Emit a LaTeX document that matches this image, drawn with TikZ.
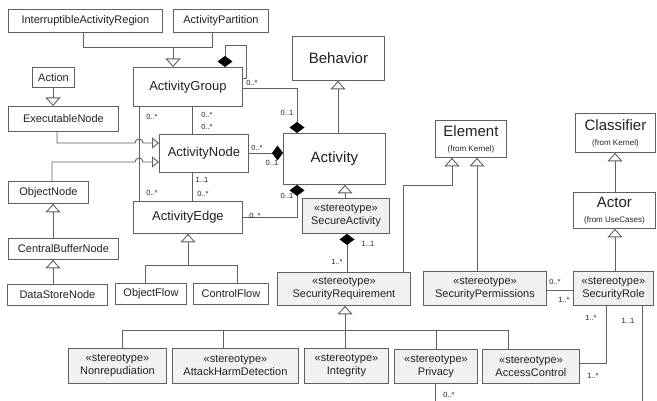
\documentclass[tikz,border=0pt]{standalone}
\usepackage{fontspec}
\setmainfont{Liberation Sans}
\usetikzlibrary{arrows.meta}
\definecolor{ln}{HTML}{606060}
\definecolor{tx}{HTML}{222222}
\definecolor{st}{HTML}{F1F1F1}
\newcommand{\umlbox}[7]{\node[#1, anchor=north west, minimum width={#4-#2}, minimum height={#5-#3}] (#6) at (#2,#3) {#7};}
\begin{document}
\begin{tikzpicture}[x=1pt,y=-1pt,
  box/.style={draw=ln, line width=0.9pt, fill=white, text=tx, inner sep=0pt, align=center},
  ster/.style={box, fill=st, font=\fontsize{11}{13}\selectfont},
  fbig/.style={font=\fontsize{15}{17}\selectfont},
  fmid/.style={font=\fontsize{13}{15}\selectfont},
  fsm/.style={font=\fontsize{11}{13}\selectfont},
  conn/.style={draw=ln, line width=0.9pt},
  gen/.style={conn, -{Triangle[open, length=8.5pt, width=15pt]}},
  gensmall/.style={conn, -{Triangle[open, length=7pt, width=11pt]}},
  comp/.style={conn, {Diamond[length=11pt, width=15pt, color=black, fill=black]}-},
  mult/.style={font=\fontsize{7.5}{8}\selectfont, text=tx, inner sep=0pt}
]
\fill[white] (0,0) rectangle (657,401);
\useasboundingbox (0,0) rectangle (657,401);

% ---- boxes ----
\umlbox{box,fsm}{8}{9}{162}{32}{iar}{InterruptibleActivityRegion}
\umlbox{box,fsm}{173}{9}{268}{32}{ap}{ActivityPartition}
\umlbox{box,fmid}{133}{67}{242}{106}{ag}{ActivityGroup}
\umlbox{box,fbig}{292}{36}{384}{80}{beh}{Behavior}
\umlbox{box,fsm}{32}{67}{74}{87}{act}{Action}
\umlbox{box,fsm}{8}{106}{118}{131}{en}{ExecutableNode}
\umlbox{box,fmid}{159}{134}{248}{172}{an}{ActivityNode}
\umlbox{box,fbig}{283}{133}{385}{184}{activity}{Activity}
\umlbox{box,fsm}{8}{181}{88}{203}{on}{ObjectNode}
\umlbox{box,fmid}{133}{201}{242}{233}{ae}{ActivityEdge}
\umlbox{ster}{302}{198}{389}{233}{sa}{«stereotype»\\SecureActivity}
\umlbox{box,fsm}{8}{238}{118}{259}{cbn}{CentralBufferNode}
\umlbox{box,fsm}{7}{284}{107}{305}{dsn}{DataStoreNode}
\umlbox{box,fsm}{115}{283}{186}{304}{of}{ObjectFlow}
\umlbox{box,fsm}{193}{283}{268}{304}{cf}{ControlFlow}
\umlbox{box,fbig}{435}{120}{506}{157}{el}{Element\\[-2pt]{\fontsize{8}{9}\selectfont (from Kernel)}}
\umlbox{box,fbig}{575}{113}{655}{152}{cl}{Classifier\\[-2pt]{\fontsize{8}{9}\selectfont (from Kernel)}}
\umlbox{box,fbig}{573}{192}{655}{228}{actor}{Actor\\[-2pt]{\fontsize{8}{9}\selectfont (from UseCases)}}
\umlbox{ster}{277}{272}{410}{305}{sr}{«stereotype»\\SecurityRequirement}
\umlbox{ster}{423}{271}{546}{305}{sp}{«stereotype»\\SecurityPermissions}
\umlbox{ster}{573}{271}{653}{305}{srole}{«stereotype»\\SecurityRole}
\umlbox{ster}{68}{348}{166}{383}{nr}{«stereotype»\\Nonrepudiation}
\umlbox{ster}{172}{348}{298}{383}{ahd}{«stereotype»\\AttackHarmDetection}
\umlbox{ster}{304}{348}{388}{383}{integ}{«stereotype»\\Integrity}
\umlbox{ster}{394}{349}{477}{383}{priv}{«stereotype»\\Privacy}
\umlbox{ster}{482}{349}{579}{383}{acc}{«stereotype»\\AccessControl}

% ---- generalizations ----
\draw[conn] (83,0 |- iar.south) |- (212,47) -- (212,0 |- ap.south);
\draw[gen] (173,47) -- (173,0 |- ag.north);
\draw[gen] (53,0 |- act.south) -- (53,0 |- en.north);
\draw[gensmall] (57,0 |- en.south) |- (135,143) arc[start angle=180, end angle=0, radius=4pt] -- (an.west |- 0,143);
\draw[gensmall] (52,0 |- on.north) |- (135,162) arc[start angle=180, end angle=0, radius=4pt] -- (an.west |- 0,162);
\draw[gen] (53,0 |- cbn.north) -- (53,0 |- on.south);
\draw[gen] (53,0 |- dsn.north) -- (53,0 |- cbn.south);
\draw[conn] (145,0 |- of.north) |- (237,265) -- (237,0 |- cf.north);
\draw[gen] (188,265) -- (188,0 |- ae.south);
\draw[gen] (338,0 |- activity.north) -- (338,0 |- beh.south);
\draw[gen] (345,0 |- sa.north) -- (345,0 |- activity.south);
\draw[gen] (403,0 |- sr.north) |- (452,185) -- (452,0 |- el.south);
\draw[gen] (477,0 |- sp.north) -- (477,0 |- el.south);
\draw[gen] (615,0 |- actor.north) -- (615,0 |- cl.south);
\draw[gen] (615,0 |- srole.north) -- (615,0 |- actor.south);
\draw[conn] (122,0 |- nr.north) |- (508,330) -- (508,0 |- acc.north);
\draw[conn] (223,0 |- ahd.north) -- (223,330);
\draw[conn] (345,0 |- integ.north) -- (345,330);
\draw[conn] (436,0 |- priv.north) -- (436,330);
\draw[gen] (345,330) -- (345,0 |- sr.south);

% ---- associations ----
\draw[comp] (225,0 |- ag.north) -- (225,45) -- (246,45) -- (246,78) -- (ag.east |- 0,78);
\draw[comp] (297,0 |- activity.north) |- (ag.east |- 0,88);
\draw[comp] (activity.west |- 0,153) -- (an.east |- 0,153);
\draw[comp] (297,0 |- activity.south) |- (ae.east |- 0,217);
\draw[conn] (139,0 |- ag.south) -- (139,0 |- ae.north);
\draw[conn] (192,0 |- ag.south) -- (192,0 |- an.north);
\draw[conn] (192,0 |- an.south) -- (192,0 |- ae.north);
\draw[comp] (347,0 |- sa.south) -- (347,0 |- sr.north);
\draw[conn] (sp.east |- 0,290) -- (srole.west |- 0,290);
\draw[conn] (606,0 |- srole.south) |- (acc.east |- 0,363);
\draw[conn] (642,0 |- srole.south) |- (435,404) -- (435,0 |- priv.south);

% ---- multiplicities ----
\node[mult] (m1) at (152,117) {0..*};
\node[mult] (m2) at (207,115) {0..*};
\node[mult] (m3) at (207,127) {0..*};
\node[mult] (m4) at (252,83) {0..*};
\node[mult] (m5) at (287,113) {0..1};
\node[mult] (m6) at (257,148) {0..*};
\node[mult] (m7) at (272,163) {0..1};
\node[mult] (m8) at (202,180) {1..1};
\node[mult] (m9) at (203,194) {0..*};
\node[mult] (m10) at (152,193) {0..*};
\node[mult] (m11) at (287,196) {0..1};
\node[mult] (m12) at (255,216) {0..*};
\node[mult] (m13) at (368,244) {1..1};
\node[mult] (m14) at (337,262) {1..*};
\node[mult] (m15) at (555,282) {0..*};
\node[mult] (m16) at (564,300) {1..*};
\node[mult] (m17) at (591,318) {1..*};
\node[mult] (m18) at (628,321) {1..1};
\node[mult] (m19) at (593,376) {1..*};
\node[mult] (m20) at (449,395) {0..*};
\end{tikzpicture}
\end{document}
